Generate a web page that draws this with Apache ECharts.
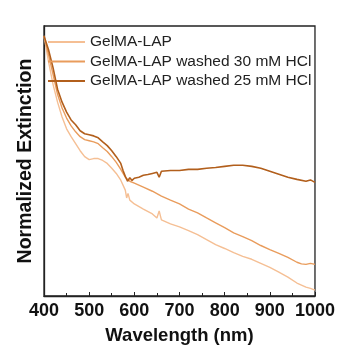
<!DOCTYPE html>
<html><head><meta charset="utf-8">
<script src="https://cdn.jsdelivr.net/npm/echarts@6/dist/echarts.min.js"></script>
<style>html,body{margin:0;padding:0;background:#fff}#c{width:338px;height:350px}</style>
</head><body><div id="c"></div>
<script>
var seriesNames = ['GelMA-LAP', 'GelMA-LAP washed 30 mM HCl', 'GelMA-LAP washed 25 mM HCl'];
var xTicks = [400, 500, 600, 700, 800, 900, 1000];

var wlLAP = [400,410,420,430,440,450,460,470,480,490,500,510,520,530,540,550,560,570,580,583,586,590,600,620,640,650,655,660,680,700,720,740,760,780,800,820,840,860,880,900,920,940,960,980,990,1000];
var extLAP = [0.963,0.868,0.784,0.718,0.663,0.619,0.590,0.564,0.538,0.516,0.505,0.509,0.509,0.502,0.491,0.473,0.454,0.429,0.392,0.363,0.380,0.355,0.341,0.322,0.304,0.289,0.315,0.282,0.267,0.256,0.242,0.227,0.209,0.190,0.176,0.161,0.147,0.136,0.121,0.106,0.088,0.070,0.048,0.033,0.028,0.022];

var wl30 = [400,410,420,430,440,450,460,470,480,490,500,510,520,530,540,550,560,570,580,590,600,620,640,660,680,700,720,740,760,780,800,820,840,860,880,900,920,940,960,970,980,990,1000];
var ext30 = [0.963,0.894,0.821,0.747,0.696,0.659,0.630,0.608,0.590,0.579,0.575,0.571,0.564,0.549,0.535,0.516,0.495,0.469,0.440,0.425,0.418,0.403,0.388,0.370,0.355,0.341,0.322,0.308,0.289,0.271,0.253,0.234,0.220,0.205,0.187,0.172,0.158,0.143,0.125,0.119,0.117,0.121,0.117];

var wl25 = [400,410,420,430,440,450,460,470,480,490,500,510,520,530,540,550,560,570,575,580,585,590,595,600,610,620,630,640,650,655,660,680,700,720,740,760,780,800,820,840,860,880,900,920,940,960,980,990,1000];
var ext25 = [0.963,0.912,0.846,0.766,0.718,0.681,0.652,0.634,0.612,0.601,0.597,0.593,0.586,0.571,0.557,0.538,0.516,0.491,0.465,0.443,0.425,0.438,0.428,0.436,0.440,0.447,0.450,0.454,0.458,0.440,0.462,0.465,0.465,0.469,0.469,0.473,0.476,0.480,0.484,0.484,0.480,0.473,0.462,0.451,0.440,0.432,0.425,0.430,0.421];

function pairs(x, y){ return x.map(function(v,i){ return [v, y[i]]; }); }

var FONT = 'Liberation Sans, Arial, sans-serif';
var colors = ['#f5bf94', '#e99c5c', '#b25f1c'];
var chart = echarts.init(document.getElementById('c'));
chart.setOption({
  animation: false,
  color: colors,
  grid: {left: 44, right: 22, top: 26, bottom: 51, show: true, borderColor: '#222', borderWidth: 1.3, backgroundColor: 'transparent'},
  legend: {
    orient: 'vertical', left: 42, top: 29, itemWidth: 37, itemHeight: 14, itemGap: 3.5,
    itemStyle: {opacity: 0},
    textStyle: {fontFamily: FONT, fontSize: 15.5, color: '#222'},
    data: seriesNames
  },
  xAxis: {
    type: 'value', min: 400, max: 1000, interval: 100,
    name: 'Wavelength (nm)', nameLocation: 'middle', nameGap: 30,
    nameTextStyle: {fontFamily: FONT, fontSize: 18.5, fontWeight: 'bold', color: '#111'},
    axisLine: {lineStyle: {color: '#222', width: 1.3}},
    axisTick: {inside: true, length: 4, lineStyle: {color: '#222'}},
    minorTick: {show: true, splitNumber: 2, length: 3, lineStyle: {color: '#222'}},
    splitLine: {show: false},
    axisLabel: {fontFamily: FONT, fontSize: 18, fontWeight: 'bold', color: '#111', margin: 6,
      formatter: function(v){ return xTicks.indexOf(v) >= 0 ? String(v) : ''; }}
  },
  yAxis: {
    type: 'value', min: 0, max: 1,
    name: 'Normalized Extinction', nameLocation: 'middle', nameGap: 8,
    nameTextStyle: {fontFamily: FONT, fontSize: 19.5, fontWeight: 'bold', color: '#111'},
    axisLine: {show: true, lineStyle: {color: '#222', width: 1.3}},
    axisTick: {show: false}, axisLabel: {show: false}, splitLine: {show: false}
  },
  series: [
    {name: seriesNames[0], type: 'line', symbol: 'none', data: pairs(wlLAP, extLAP), lineStyle: {width: 1.4}},
    {name: seriesNames[1], type: 'line', symbol: 'none', data: pairs(wl30, ext30), lineStyle: {width: 1.4}},
    {name: seriesNames[2], type: 'line', symbol: 'none', data: pairs(wl25, ext25), lineStyle: {width: 1.6}}
  ]
});
</script></body></html>
